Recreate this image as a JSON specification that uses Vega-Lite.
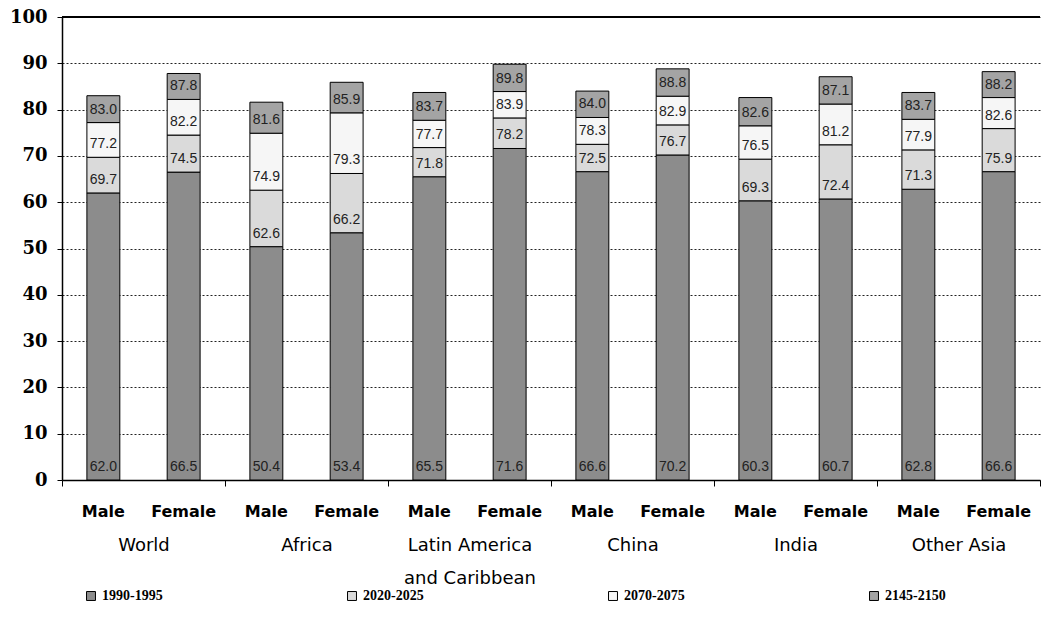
{
  "$schema": "https://vega.github.io/schema/vega-lite/v6.json",
  "width": 978,
  "height": 463,
  "autosize": {"type": "none"},
  "padding": {"left": 62, "top": 17, "right": 19, "bottom": 154},
  "background": "white",
  "config": {"view": {"stroke": null}},
  "data": {
    "values": [
      {"region": "World", "sex": "Male", "period": "1990-1995", "value": 62.0},
      {"region": "World", "sex": "Male", "period": "2020-2025", "value": 69.7},
      {"region": "World", "sex": "Male", "period": "2070-2075", "value": 77.2},
      {"region": "World", "sex": "Male", "period": "2145-2150", "value": 83.0},
      {"region": "World", "sex": "Female", "period": "1990-1995", "value": 66.5},
      {"region": "World", "sex": "Female", "period": "2020-2025", "value": 74.5},
      {"region": "World", "sex": "Female", "period": "2070-2075", "value": 82.2},
      {"region": "World", "sex": "Female", "period": "2145-2150", "value": 87.8},
      {"region": "Africa", "sex": "Male", "period": "1990-1995", "value": 50.4},
      {"region": "Africa", "sex": "Male", "period": "2020-2025", "value": 62.6},
      {"region": "Africa", "sex": "Male", "period": "2070-2075", "value": 74.9},
      {"region": "Africa", "sex": "Male", "period": "2145-2150", "value": 81.6},
      {"region": "Africa", "sex": "Female", "period": "1990-1995", "value": 53.4},
      {"region": "Africa", "sex": "Female", "period": "2020-2025", "value": 66.2},
      {"region": "Africa", "sex": "Female", "period": "2070-2075", "value": 79.3},
      {"region": "Africa", "sex": "Female", "period": "2145-2150", "value": 85.9},
      {"region": "Latin America and Caribbean", "sex": "Male", "period": "1990-1995", "value": 65.5},
      {"region": "Latin America and Caribbean", "sex": "Male", "period": "2020-2025", "value": 71.8},
      {"region": "Latin America and Caribbean", "sex": "Male", "period": "2070-2075", "value": 77.7},
      {"region": "Latin America and Caribbean", "sex": "Male", "period": "2145-2150", "value": 83.7},
      {"region": "Latin America and Caribbean", "sex": "Female", "period": "1990-1995", "value": 71.6},
      {"region": "Latin America and Caribbean", "sex": "Female", "period": "2020-2025", "value": 78.2},
      {"region": "Latin America and Caribbean", "sex": "Female", "period": "2070-2075", "value": 83.9},
      {"region": "Latin America and Caribbean", "sex": "Female", "period": "2145-2150", "value": 89.8},
      {"region": "China", "sex": "Male", "period": "1990-1995", "value": 66.6},
      {"region": "China", "sex": "Male", "period": "2020-2025", "value": 72.5},
      {"region": "China", "sex": "Male", "period": "2070-2075", "value": 78.3},
      {"region": "China", "sex": "Male", "period": "2145-2150", "value": 84.0},
      {"region": "China", "sex": "Female", "period": "1990-1995", "value": 70.2},
      {"region": "China", "sex": "Female", "period": "2020-2025", "value": 76.7},
      {"region": "China", "sex": "Female", "period": "2070-2075", "value": 82.9},
      {"region": "China", "sex": "Female", "period": "2145-2150", "value": 88.8},
      {"region": "India", "sex": "Male", "period": "1990-1995", "value": 60.3},
      {"region": "India", "sex": "Male", "period": "2020-2025", "value": 69.3},
      {"region": "India", "sex": "Male", "period": "2070-2075", "value": 76.5},
      {"region": "India", "sex": "Male", "period": "2145-2150", "value": 82.6},
      {"region": "India", "sex": "Female", "period": "1990-1995", "value": 60.7},
      {"region": "India", "sex": "Female", "period": "2020-2025", "value": 72.4},
      {"region": "India", "sex": "Female", "period": "2070-2075", "value": 81.2},
      {"region": "India", "sex": "Female", "period": "2145-2150", "value": 87.1},
      {"region": "Other Asia", "sex": "Male", "period": "1990-1995", "value": 62.8},
      {"region": "Other Asia", "sex": "Male", "period": "2020-2025", "value": 71.3},
      {"region": "Other Asia", "sex": "Male", "period": "2070-2075", "value": 77.9},
      {"region": "Other Asia", "sex": "Male", "period": "2145-2150", "value": 83.7},
      {"region": "Other Asia", "sex": "Female", "period": "1990-1995", "value": 66.6},
      {"region": "Other Asia", "sex": "Female", "period": "2020-2025", "value": 75.9},
      {"region": "Other Asia", "sex": "Female", "period": "2070-2075", "value": 82.6},
      {"region": "Other Asia", "sex": "Female", "period": "2145-2150", "value": 88.2}
    ]
  },
  "transform": [
    {"window": [{"op": "lag", "field": "value", "as": "prev"}], "groupby": ["region", "sex"], "sort": [{"field": "period"}]},
    {"calculate": "datum.prev == null ? 0 : datum.prev", "as": "base"}
  ],
  "layer": [
    {
      "mark": {"type": "bar", "stroke": "#000", "strokeWidth": 1},
      "encoding": {
        "x": {
          "field": "region", "type": "nominal",
          "sort": ["World", "Africa", "Latin America and Caribbean", "China", "India", "Other Asia"],
          "scale": {"paddingInner": 0, "paddingOuter": 0},
          "axis": {
            "title": null, "labelAngle": 0, "domainColor": "#000", "domainWidth": 1.5,
            "tickColor": "#000", "tickSize": 6, "tickBand": "extent",
            "labelFont": "DejaVu Sans", "labelFontSize": 18, "labelColor": "#000",
            "labelBaseline": "top", "labelPadding": 50, "labelLineHeight": 33,
            "labelExpr": "datum.value == 'Latin America and Caribbean' ? ['Latin America', 'and Caribbean'] : datum.value"
          }
        },
        "xOffset": {"field": "sex", "sort": ["Male", "Female"], "scale": {"paddingInner": 0.59, "paddingOuter": 0.31}},
        "y": {
          "field": "base", "type": "quantitative",
          "scale": {"domain": [0, 100], "nice": false},
          "axis": {
            "title": null, "values": [0, 10, 20, 30, 40, 50, 60, 70, 80, 90, 100],
            "grid": true, "gridDash": [2, 2], "gridColor": "#222", "gridWidth": 1,
            "domainColor": "#000", "domainWidth": 1.5, "tickColor": "#000", "tickSize": 5,
            "labelFont": "DejaVu Serif", "labelFontWeight": "bold", "labelFontSize": 18,
            "labelColor": "#000", "labelPadding": 10
          }
        },
        "y2": {"field": "value"},
        "color": {
          "field": "period", "type": "nominal",
          "scale": {"domain": ["1990-1995", "2020-2025", "2070-2075", "2145-2150"], "range": ["#8c8c8c", "#dadada", "#f6f6f6", "#a4a4a4"]},
          "legend": {
            "orient": "none", "legendX": 22, "legendY": 572, "direction": "horizontal", "title": null,
            "symbolType": "square", "symbolSize": 80, "symbolStrokeColor": "#000", "symbolStrokeWidth": 1,
            "labelFont": "Liberation Serif", "labelFontWeight": "bold", "labelFontSize": 14, "labelColor": "#000",
            "columnPadding": 182, "labelOffset": 4
          }
        }
      }
    },
    {
      "mark": {"type": "text", "dy": -13, "baseline": "middle", "font": "Liberation Sans", "fontSize": 14, "color": "#222"},
      "encoding": {
        "x": {"field": "region", "type": "nominal", "sort": ["World", "Africa", "Latin America and Caribbean", "China", "India", "Other Asia"]},
        "xOffset": {"field": "sex", "sort": ["Male", "Female"]},
        "y": {"field": "base", "type": "quantitative"},
        "text": {"field": "value", "type": "quantitative", "format": ".1f"}
      }
    },
    {
      "transform": [{"filter": "datum.period == '1990-1995'"}],
      "mark": {"type": "text", "dy": 32, "baseline": "middle", "font": "DejaVu Sans", "fontWeight": "bold", "fontSize": 16, "color": "#000"},
      "encoding": {
        "x": {"field": "region", "type": "nominal", "sort": ["World", "Africa", "Latin America and Caribbean", "China", "India", "Other Asia"]},
        "xOffset": {"field": "sex", "sort": ["Male", "Female"]},
        "y": {"datum": 0},
        "text": {"field": "sex"}
      }
    },
    {
      "mark": {"type": "rule", "color": "#000", "strokeWidth": 1.5},
      "encoding": {"y": {"datum": 100}}
    }
  ]
}
